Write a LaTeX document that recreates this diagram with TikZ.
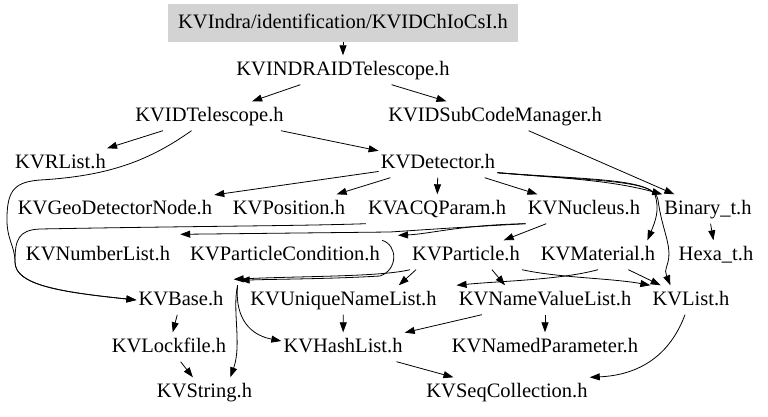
\documentclass[tikz,border=0pt]{standalone}
\usepackage{fontspec}
\setmainfont{Liberation Serif}
\usetikzlibrary{arrows.meta}
\definecolor{boxgray}{RGB}{211,211,211}

\begin{document}
\begin{tikzpicture}[x=1pt,y=-1pt]

		\tikzset{line/.style={draw,line width=0.8pt}}
		\tikzset{dep/.style={line,-{Triangle[length=10pt,width=7pt]}}}
		\tikzset{file/.style={inner xsep=2pt,inner ysep=5pt,text height=15pt,text depth=4pt,font=\fontsize{20.5}{24}\selectfont}}
		\tikzset{root/.style={file,fill=boxgray,minimum width=350pt,minimum height=38pt}}

		\useasboundingbox (0,0) rectangle (768,417);

		\node[root] (top) at (343,23) {KVIndra/identification/KVIDChIoCsI.h};
		\node[file] (indra) at (343,70) {KVINDRAIDTelescope.h};
		\node[file] (idtel) at (209.5,116) {KVIDTelescope.h};
		\node[file] (subcode) at (495,116) {KVIDSubCodeManager.h};
		\node[file] (rlist) at (60.5,163) {KVRList.h};
		\node[file] (detector) at (438,163) {KVDetector.h};
		\node[file] (geonode) at (115,209) {KVGeoDetectorNode.h};
		\node[file] (position) at (289,209) {KVPosition.h};
		\node[file] (acq) at (437,209) {KVACQParam.h};
		\node[file] (nucleus) at (584,209) {KVNucleus.h};
		\node[file] (binary) at (708,209) {Binary\_t.h};
		\node[file] (numberlist) at (98,255) {KVNumberList.h};
		\node[file] (partcond) at (285,255) {KVParticleCondition.h};
		\node[file] (particle) at (466,255) {KVParticle.h};
		\node[file] (material) at (598,255) {KVMaterial.h};
		\node[file] (hexa) at (716,255) {Hexa\_t.h};
		\node[file] (base) at (181,300) {KVBase.h};
		\node[file] (uniquename) at (343.5,300) {KVUniqueNameList.h};
		\node[file] (namevalue) at (545,300) {KVNameValueList.h};
		\node[file] (klist) at (691,300) {KVList.h};
		\node[file] (lockfile) at (169,347) {KVLockfile.h};
		\node[file] (hashlist) at (343,347) {KVHashList.h};
		\node[file] (namedparam) at (545,347) {KVNamedParameter.h};
		\node[file] (string) at (204.5,392) {KVString.h};
		\node[file] (seqcoll) at (507,392) {KVSeqCollection.h};

		% straight includes
		\path[dep] (top) to (indra);
		\path[dep] (indra) to (idtel);
		\path[dep] (indra) to (subcode);
		\path[dep] (idtel) to (rlist);
		\path[dep] (idtel) to (detector);
		\path[dep] (subcode) to (binary);
		\path[dep] (detector) to (geonode);
		\path[dep] (detector) to (position);
		\path[dep] (detector) to (acq);
		\path[dep] (detector) to (nucleus);
		\path[dep] (nucleus) to (particle);
		\path[dep] (binary) to (hexa);
		\path[dep] ([xshift=6pt]particle.south west) to ([xshift=-40pt]uniquename.north east);
		\path[dep] ([xshift=-30pt]particle.south east) to ([xshift=-40pt]namevalue.north);
		\path[dep] (material) to (klist);
		\path[dep] (base) to (lockfile);
		\path[dep] (lockfile) to (string);
		\path[dep] (uniquename) to (hashlist);
		\path[dep] (namevalue) to (hashlist);
		\path[dep] (namevalue) to (namedparam);
		\path[dep] (hashlist) to (seqcoll);

		% routed includes
		\path[dep] ([xshift=-18pt]idtel.south) .. controls (150,160) and (110,176) .. (40,180)
			.. controls (15,182) and (8,190) .. (7,215) .. controls (6,240) and (15,245) .. (15,262)
			.. controls (15,285) and (60,292) .. (base.west);
		\path[dep] (acq.south west) .. controls (300,226) and (200,226) .. (40,229)
			.. controls (18,230) and (15,240) .. (15,262) .. controls (15,285) and (60,292) .. (base.west);
		\path[dep] ([yshift=5pt]detector.south east) .. controls (560,178) and (610,180) .. (binary.north west);
		\path[dep] ([yshift=5pt]detector.south east) .. controls (580,180) and (650,180) .. (655,195)
			.. controls (660,210) and (655,222) .. ([xshift=-10pt]material.north east);
		\path[dep] ([yshift=5pt]detector.south east) .. controls (590,180) and (655,178) .. (658,200)
			.. controls (662,230) and (672,245) .. (668,262) .. controls (665,272) .. ([xshift=20pt]klist.north west);
		\path[dep] (nucleus.south west) .. controls (450,228) .. (390,232) -- ([xshift=8pt,yshift=6pt]numberlist.north east);
		\path[dep] (nucleus.south west) .. controls (460,225) and (430,234) .. ([xshift=16pt,yshift=5pt]partcond.north east);
		\path[dep] (partcond.north east) .. controls (398,245) and (398,270) .. (380,276)
			.. controls (330,279) and (280,279) .. ([xshift=14pt,yshift=5pt]base.north east);
		\path[dep] (particle.south west) .. controls (380,277) and (300,276) .. ([xshift=8pt,yshift=6pt]base.north east);
		\path[dep] (particle.south east) .. controls (560,278) and (610,278) .. (klist.north west);
		\path[dep] (material.south) .. controls (560,280) and (500,281) .. (namevalue.north west);
		\path[dep] ([xshift=12pt]base.north east) .. controls (232,310) and (242,345) .. ([xshift=-24pt]string.north east);
		\path[dep] ([xshift=12pt]base.north east) .. controls (235,312) and (245,334) .. ([yshift=6pt]hashlist.west);
		\path[dep] ([xshift=-6pt]klist.south) .. controls (670,355) and (640,375) .. (seqcoll.north east);

	\end{tikzpicture}
\end{document}
